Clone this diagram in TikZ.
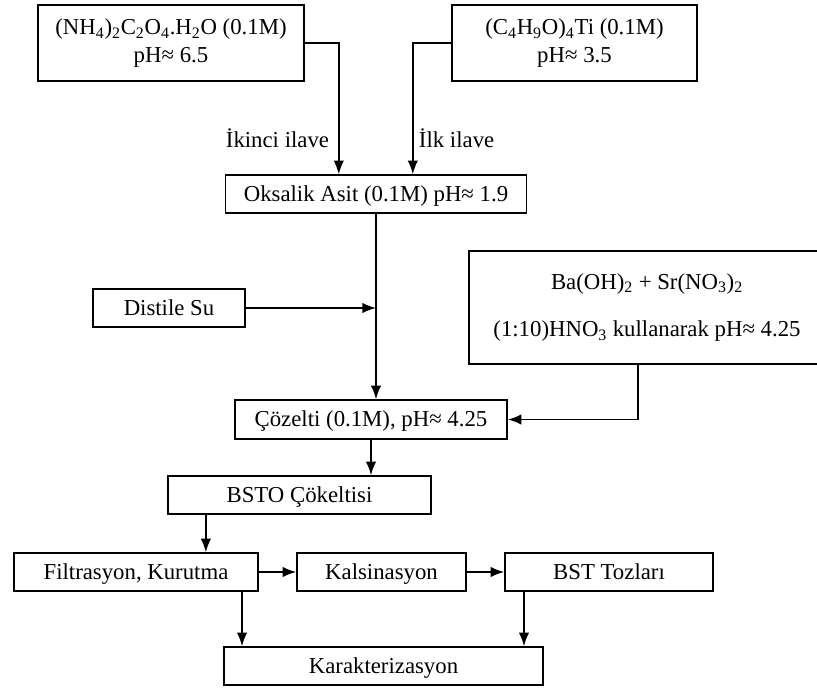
\documentclass[tikz,border=0pt]{standalone}
\usepackage{fontspec}
\setmainfont{Liberation Serif}
\usetikzlibrary{arrows.meta}

\begin{document}
\begin{tikzpicture}[x=0.025cm, y=-0.025cm,
		kutu/.style={draw, line width=1.1pt, inner sep=0pt, font=\fontsize{16.2}{19.5}\selectfont},
		cok/.style={align=center},
		tek/.style={text height=13pt, text depth=3pt},
		ok/.style={-{Latex[length=3.4mm,width=2.6mm]}, line width=1.1pt},
		etiket/.style={font=\fontsize{16.2}{19.5}\selectfont}]
		%%%%% START %%%%%
		
		\useasboundingbox (0, 0) rectangle (817, 689);
		
		\node[kutu, cok, minimum width=6.65cm, minimum height=1.9cm] (amox) at (171, 43) {(NH\textsubscript{4})\textsubscript{2}C\textsubscript{2}O\textsubscript{4}.H\textsubscript{2}O (0.1M)\\pH≈ 6.5};
		\node[kutu, cok, minimum width=6.125cm, minimum height=1.9cm] (titan) at (574.5, 43) {(C\textsubscript{4}H\textsubscript{9}O)\textsubscript{4}Ti (0.1M)\\pH≈ 3.5};
		
		\node[kutu, tek, minimum width=7.525cm, minimum height=0.95cm] (oksalik) at (376, 194) {Oksalik Asit (0.1M) pH≈ 1.9};
		\node[kutu, tek, minimum width=3.8cm, minimum height=0.95cm] (distile) at (169, 308) {Distile Su};
		\node[kutu, cok, minimum width=8.9cm, minimum height=2.825cm] (barsr) at (647, 307.5) {Ba(OH)\textsubscript{2} + Sr(NO\textsubscript{3})\textsubscript{2}\\[0.5cm](1:10)HNO\textsubscript{3} kullanarak pH≈ 4.25};
		
		\node[kutu, tek, minimum width=6.8cm, minimum height=0.975cm] (cozelti) at (371, 419.5) {Çözelti (0.1M), pH≈ 4.25};
		\node[kutu, tek, minimum width=6.575cm, minimum height=0.95cm] (bsto) at (299.5, 495) {BSTO Çökeltisi};
		
		\node[kutu, tek, minimum width=6.1cm, minimum height=0.95cm] (filtre) at (136, 572) {Filtrasyon, Kurutma};
		\node[kutu, tek, minimum width=4.225cm, minimum height=0.95cm] (kalsin) at (381.5, 572) {Kalsinasyon};
		\node[kutu, tek, minimum width=5.2cm, minimum height=0.95cm] (toz) at (609, 572) {BST Tozları};
		\node[kutu, tek, minimum width=7.975cm, minimum height=0.95cm] (karakter) at (383.5, 666) {Karakterizasyon};
		
		\draw[ok] (amox.east) -| ([xshift=-0.93cm]oksalik.north);
		\draw[ok] (titan.west) -| ([xshift=0.92cm]oksalik.north);
		\node[etiket, anchor=east] (ikinci) at (334, 138) {İkinci ilave};
		\node[etiket, anchor=west] (ilk) at (414, 138) {İlk ilave};
		
		\draw[ok] (oksalik.south) -- (oksalik.south |- cozelti.north);
		\draw[ok] (distile.east) -- (distile.east -| oksalik.south);
		\draw[ok] ([xshift=-0.225cm]barsr.south) |- (cozelti.east);
		
		\draw[ok] (cozelti.south) -- (cozelti.south |- bsto.north);
		\draw[ok] ([xshift=-2.34cm]bsto.south) -- ([xshift=-2.34cm]bsto.south |- filtre.north);
		
		\draw[ok] (filtre.east) -- (kalsin.west);
		\draw[ok] (kalsin.east) -- (toz.west);
		\draw[ok] ([xshift=2.65cm]filtre.south) -- ([xshift=2.65cm]filtre.south |- karakter.north);
		\draw[ok] ([xshift=-2.125cm]toz.south) -- ([xshift=-2.125cm]toz.south |- karakter.north);
		
		%%%%% END %%%%%
\end{tikzpicture}
\end{document}
